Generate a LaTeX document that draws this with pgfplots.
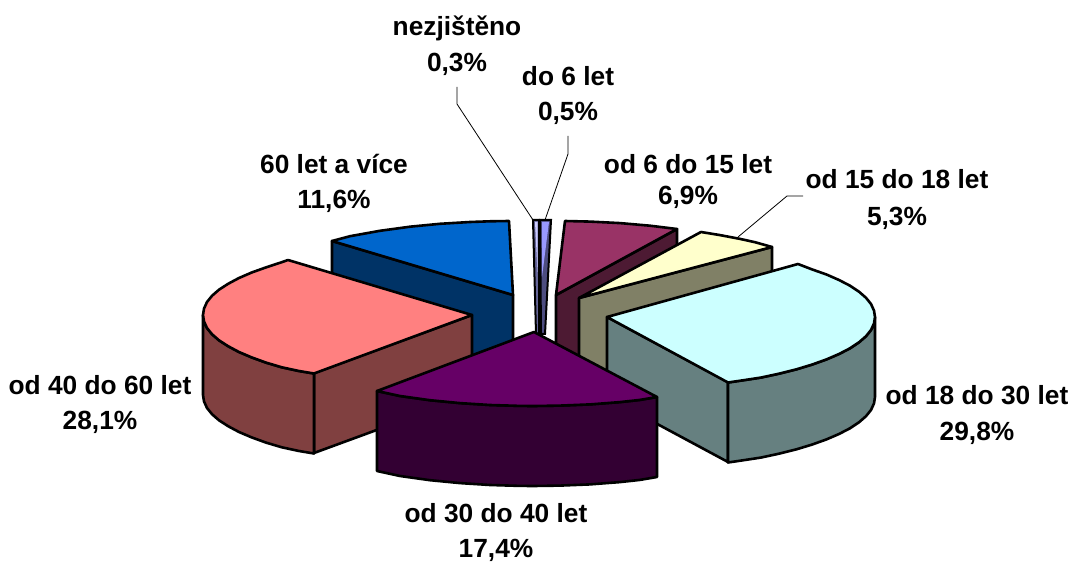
\documentclass[border=0pt]{standalone}
\usepackage{pgfplots}
\pgfplotsset{compat=1.18}
\usepackage{fontspec}
\setmainfont{Liberation Sans}
\definecolor{blueT}{HTML}{0066CC}\definecolor{blueS}{HTML}{003366}
\definecolor{pinkT}{HTML}{FF8080}\definecolor{pinkS}{HTML}{804040}
\definecolor{cyanT}{HTML}{CCFFFF}\definecolor{cyanS}{HTML}{668080}
\definecolor{purpT}{HTML}{660066}\definecolor{purpS}{HTML}{330033}
\definecolor{plumT}{HTML}{993366}\definecolor{plumS}{HTML}{4D1A33}
\definecolor{yellT}{HTML}{FFFFCC}\definecolor{yellS}{HTML}{808066}
\definecolor{thinA}{HTML}{CCCCFF}\definecolor{thinB}{HTML}{9999FF}
\definecolor{thinC}{HTML}{666699}\definecolor{thinD}{HTML}{4D4D80}
\pgfplotsset{
  face/.style={fill=#1,draw=black,line width=2.6pt,line join=round,mark=none},
  thin face/.style={fill=#1,draw=black,line width=2pt,line join=miter,mark=none},
  leader/.style={draw=black,line width=0.8pt,mark=none},
}
\newcommand{\lab}[3]{\node[anchor=base,inner sep=0pt,font=\fontsize{26.3}{30}\selectfont\bfseries] at (axis cs:#1,#2) {#3};}
\begin{document}
\begin{tikzpicture}
\begin{axis}[
  width=1071pt,height=560pt,scale only axis,
  xmin=0,xmax=1071,ymin=0,ymax=560,y dir=reverse,
  hide axis,clip=false]
% frame of the page
\addplot[draw=none,mark=none] coordinates {(0,0)(1071,560)};
% leaders behind
\addplot[leader] coordinates {(457,87)(457,104)(533,220)};
\addplot[leader] coordinates {(568,136)(568,154)(545,220)};
% thin slices
\addplot[thin face=thinC] coordinates {(533,220)(539,220)(539,334)(536,334)} --cycle;
\addplot[thin face=thinA,draw=none] coordinates {(535,222)(537.5,222)(537.5,272)} --cycle;
\addplot[thin face=thinD] coordinates {(540,220)(551,220)(545,334)(541,334)} --cycle;
\addplot[thin face=thinB,draw=none] coordinates {(542,222)(549,222)(542,277)} --cycle;
% blue
\addplot[face=blueS] coordinates {(332,241)(513,295)(513,375)(332,321)} --cycle;
\addplot[face=blueT] coordinates {(513,295)(332,241)(350,236.2)(380,230.8)(410,226.7)(440,223.8)(470,222)(490,221.3)(509,221)} --cycle;
% plum
\addplot[face=plumS] coordinates {(556,295)(677,229)(677,309)(556,375)} --cycle;
\addplot[face=plumT] coordinates {(556,295)(565,221)(590,221.6)(620,223.1)(650,225.7)(677,229)} --cycle;
% yellow
\addplot[face=yellS] coordinates {(579,298)(772,247)(772,327)(579,378)} --cycle;
\addplot[leader] coordinates {(738,237)(787,196)(803,196)};
\addplot[face=yellT] coordinates {(579,298)(701,232)(720,235.1)(740,238.9)(755,242.2)(772,247)} --cycle;
% pink
\addplot[face=pinkS] coordinates {(472,315)(314,373)(314,453)(472,395)} --cycle;
\addplot[face=pinkS] coordinates {(203,315)(204,321.4)(207,328)(212,334.2)(219,340.3)(228.3,346.3)(239,352)(251.7,357.4)(266,362.6)(281.8,367.3)(299,371)(314,373.5)(314,453.5)(299,451)(281.8,447.3)(266,442.6)(251.7,437.4)(239,432)(228.3,426.3)(219,420.3)(212,414.2)(207,408)(204,401.4)(203,395)} --cycle;
\addplot[face=pinkT] coordinates {(472,315)(288,260)(281.8,262.2)(266,267.4)(251.7,272.5)(239,278)(228.3,283.7)(219,289.7)(212,295.8)(207,302)(204,308.6)(203,315)(204,321.4)(207,328)(212,334.2)(219,340.3)(228.3,346.3)(239,352)(251.7,357.4)(266,362.6)(281.8,367.3)(299,371)(314,373.5)} --cycle;
% cyan
\addplot[face=cyanS] coordinates {(607,317)(728,382)(728,462)(607,397)} --cycle;
\addplot[face=cyanS] coordinates {(875,317)(874,323.4)(871,330)(866,336.2)(859,342.3)(850,348.3)(839,354)(826.5,359.4)(812,364.6)(796.5,369.3)(779,373.7)(760.8,377.6)(741,380.6)(728,382.5)(728,462.5)(741,460.6)(760.8,457.6)(779,453.7)(796.5,449.3)(812,444.6)(826.5,439.4)(839,434)(850,428.3)(859,422.3)(866,416.2)(871,410)(874,403.4)(875,397)} --cycle;
\addplot[face=cyanT] coordinates {(607,317)(798,264)(812,269.4)(826.5,274.5)(839,280)(850,285.7)(859,291.7)(866,297.8)(871,304)(874,310.6)(875,317)(874,323.4)(871,330)(866,336.2)(859,342.3)(850,348.3)(839,354)(826.5,359.4)(812,364.6)(796.5,369.3)(779,373.7)(760.8,377.6)(741,380.6)(728,382.5)} --cycle;
% purple
\addplot[face=purpS] coordinates {(377,391)(400,396)(430,400.2)(460,403.1)(490,405)(520,405.9)(534,406)(560,405.6)(590,404.4)(620,402.1)(640,399.9)(657,397)(657,477)(640,479.9)(620,482.1)(590,484.4)(560,485.6)(534,486)(520,485.9)(490,485)(460,483.1)(430,480.2)(400,476)(377,471)} --cycle;
\addplot[face=purpT] coordinates {(534,332)(377,391)(400,396)(430,400.2)(460,403.1)(490,405)(520,405.9)(534,406)(560,405.6)(590,404.4)(620,402.1)(640,399.9)(657,397)} --cycle;
% labels
\lab{457}{36}{nezjištěno}
\lab{457}{72}{0,3\%}
\lab{568}{86}{do 6 let}
\lab{568}{121}{0,5\%}
\lab{334}{174}{60 let a více}
\lab{334}{209}{11,6\%}
\lab{688}{174}{od 6 do 15 let}
\lab{688}{205}{6,9\%}
\lab{897}{189}{od 15 do 18 let}
\lab{897}{226}{5,3\%}
\lab{977}{405}{od 18 do 30 let}
\lab{977}{440}{29,8\%}
\lab{100}{395}{od 40 do 60 let}
\lab{100}{430}{28,1\%}
\lab{496}{522}{od 30 do 40 let}
\lab{496}{557}{17,4\%}
\end{axis}
\end{tikzpicture}
\end{document}
